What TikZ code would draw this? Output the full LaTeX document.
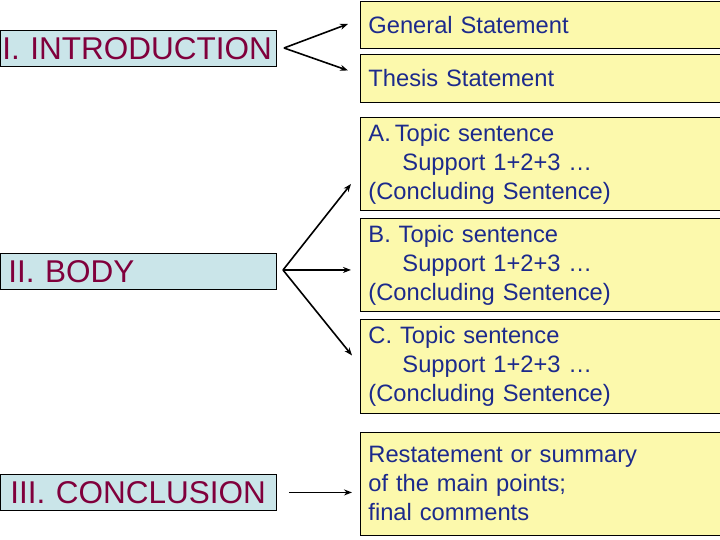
\documentclass[tikz,border=0pt]{standalone}
\usepackage{fontspec}
\setmainfont{Liberation Sans}
\usetikzlibrary{arrows.meta}
\definecolor{lblue}{RGB}{202,229,233}
\definecolor{maroon}{RGB}{128,0,60}
\definecolor{pyellow}{RGB}{252,249,172}
\definecolor{tblue}{RGB}{28,42,140}
\tikzset{
  lbox/.style={draw=black, line width=0.9pt, fill=lblue, text=maroon, anchor=north west,
    font=\fontsize{31.5}{34}\selectfont, text width=272pt, inner xsep=2pt, inner ysep=0pt,
    minimum height=36pt, align=left},
  rbox/.style={draw=black, line width=0.9pt, fill=pyellow, text=tblue, anchor=north west,
    font=\fontsize{23.7}{29}\selectfont, text width=360pt, inner xsep=8pt, inner ysep=0pt,
    align=left},
  conn/.style={draw=black, line width=1.6pt, -{Stealth[length=8pt,width=6pt]}},
}
\begin{document}
\begin{tikzpicture}[x=1pt,y=-1pt]
\useasboundingbox (0,0) rectangle (720,540);
% left boxes
\node[lbox] (intro) at (0,30.5) {I. INTRODUCTION};
\node[lbox] (body) at (0,253) {\hspace*{6pt}II. BODY};
\node[lbox] (concl) at (0,474) {\hspace*{8pt}III. CONCLUSION};
% right boxes
\node[rbox, minimum height=47pt] (gen) at (360,1) {General Statement};
\node[rbox, minimum height=48pt] (thes) at (360,54) {Thesis Statement};
\node[rbox, minimum height=93pt] (pa) at (360,117) {A.\,Topic sentence\\\hspace*{34pt}Support 1+2+3 \dots\\(Concluding Sentence)};
\node[rbox, minimum height=93pt] (pb) at (360,218) {B. Topic sentence\\\hspace*{34pt}Support 1+2+3 \dots\\(Concluding Sentence)};
\node[rbox, minimum height=94pt] (pc) at (360,319) {C. Topic sentence\\\hspace*{34pt}Support 1+2+3 \dots\\(Concluding Sentence)};
\node[rbox, minimum height=103pt] (rest) at (360,432) {Restatement or summary\\of the main points;\\final comments};
% fork points
\coordinate (fi) at (284,48);
\coordinate (fb) at (283,270);
% connectors
\draw[conn] (fi) -- ([xshift=-12pt,yshift=1pt]gen.west);
\draw[conn] (fi) -- ([xshift=-12pt,yshift=8pt]thes.west);
\draw[conn] (fb) -- ([xshift=-9pt,yshift=-20pt]pa.west);
\draw[conn] (fb) -- ([xshift=-9pt,yshift=-5pt]pb.west);
\draw[conn] (fb) -- ([xshift=-8pt,yshift=11pt]pc.west);
\draw[conn] ([xshift=12pt]concl.east) -- ([xshift=-8pt,yshift=-8.5pt]rest.west);
\end{tikzpicture}
\end{document}
